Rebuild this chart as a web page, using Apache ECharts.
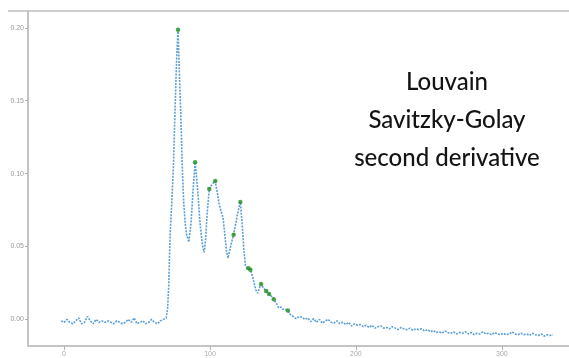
<!DOCTYPE html>
<html>
<head>
<meta charset="utf-8">
<script src="https://cdn.jsdelivr.net/npm/echarts@6/dist/echarts.min.js"></script>
<style>
  html, body { margin: 0; padding: 0; background: #fff; }
  #chart { width: 569px; height: 358px; }
</style>
</head>
<body>
<div id="chart"></div>
<script>
// Second-derivative trace (Savitzky-Golay) with detected peaks
const xVals = [
  -2, 0, 2, 4, 6, 8, 10, 12, 14, 16, 18, 20, 22, 24, 26, 28, 30, 32, 34, 36,
  38, 40, 42, 44, 46, 48, 50, 52, 54, 56, 58, 60, 62, 64, 66, 68,
  70, 71, 71.8, 72.6, 73.8, 74.9, 75.8, 76.7, 77.4, 78.1, 79, 80, 81, 82, 83, 84, 85.5,
  87, 88.5, 89.8, 91, 92, 93, 94, 95, 96, 97, 98, 99.5, 101, 102.3, 103.6,
  105, 106.3, 107.6, 108.9, 110.2, 111.3, 112.3, 113.5, 114.8, 116.2, 117.7, 119.2, 120.8,
  122, 123.2, 124.3, 125.3, 126.3, 127.7, 129, 130.2, 131.5, 132.7, 134, 135, 136.3,
  137.5, 138.5, 140.5, 142, 143.7, 145.5, 147, 148.5, 150, 151.7, 153.3,
  155, 157, 159, 161, 163, 165, 167, 169, 171, 173, 175, 177, 179, 181, 183, 185,
  187, 189, 191, 193, 195, 197, 199, 201, 203, 205, 207, 209, 211, 213, 215, 217,
  219, 221, 223, 225, 227, 229, 231, 233, 235, 237, 239, 241, 243, 245, 247, 249,
  251, 253, 255, 257, 259, 261, 263, 265, 267, 269, 271, 273, 275, 277, 279, 281,
  283, 285, 287, 289, 291, 293, 295, 297, 299, 301, 303, 305, 307, 309, 311, 313,
  315, 317, 319, 321, 323, 325, 327, 329, 331, 333, 335
];
const yVals = [
  -0.001, -0.002, 0.000, -0.002, -0.003, -0.001, 0.001, -0.003, -0.002, 0.002,
  -0.001, -0.003, 0.000, -0.002, -0.001, -0.002, -0.001, -0.002, -0.003, -0.001,
  -0.002, -0.003, -0.002, 0.000, -0.002, 0.001, -0.003, -0.002, -0.001, -0.003,
  -0.002, 0.000, -0.002, -0.003, -0.001, 0.000,
  0.001, 0.008, 0.025, 0.056, 0.080, 0.104, 0.135, 0.165, 0.185, 0.1986, 0.170, 0.140, 0.105, 0.080, 0.066, 0.058, 0.053,
  0.066, 0.090, 0.1078, 0.095, 0.083, 0.068, 0.058, 0.050, 0.046, 0.055, 0.072, 0.0895, 0.092, 0.093, 0.0949,
  0.087, 0.079, 0.074, 0.070, 0.058, 0.047, 0.042, 0.047, 0.053, 0.0581, 0.066, 0.074, 0.0805,
  0.066, 0.048, 0.037, 0.0355, 0.035, 0.034, 0.030, 0.025, 0.020, 0.018, 0.022, 0.0242, 0.022,
  0.0205, 0.0195, 0.0175, 0.016, 0.0138, 0.011, 0.008, 0.0085, 0.007, 0.0068, 0.0061,
  0.0035, 0.002, 0.0005, 0.002, 0.0015, 0.000, 0.001, -0.0015, 0.0005, -0.002, 0.000, -0.0025, -0.001, 0.000, -0.002, -0.0025,
  -0.001, -0.003, -0.002, -0.0035, -0.002, -0.0045, -0.003, -0.004, -0.0035, -0.005, -0.004, -0.0055, -0.004, -0.006, -0.005, -0.0045,
  -0.006, -0.0055, -0.0065, -0.005, -0.006, -0.007, -0.0055, -0.0065, -0.007, -0.006, -0.0075, -0.0065, -0.007, -0.0065, -0.008, -0.007,
  -0.0085, -0.0075, -0.009, -0.0085, -0.0095, -0.008, -0.009, -0.0095, -0.0085, -0.010, -0.009, -0.0095, -0.0085, -0.010, -0.009, -0.0105,
  -0.0095, -0.010, -0.0085, -0.010, -0.0095, -0.0105, -0.009, -0.010, -0.0105, -0.0095, -0.0105, -0.010, -0.0085, -0.010, -0.0105, -0.0095,
  -0.0105, -0.010, -0.011, -0.0095, -0.0105, -0.011, -0.010, -0.0115, -0.0105, -0.011, -0.0105
];

// Detected peaks (positions on the trace)
const peakX = [78.1, 89.8, 99.5, 103.6, 116.2, 120.8, 126.3, 127.7, 135, 138.5, 140.5, 143.7, 153.3];
const peakY = [0.1986, 0.1078, 0.0895, 0.0949, 0.0581, 0.0805, 0.035, 0.034, 0.0242, 0.0195, 0.0175, 0.0138, 0.0061];

const xTicks = [0, 100, 200, 300];
const yTicks = [0, 0.05, 0.10, 0.15, 0.20];
const titleLines = ['Louvain', 'Savitzky-Golay', 'second derivative'];

const trace = xVals.map((x, i) => [x, yVals[i]]);
const peaks = peakX.map((x, i) => [x, peakY[i]]);

const chart = echarts.init(document.getElementById('chart'), null, { renderer: 'canvas' });

chart.setOption({
  animation: false,
  backgroundColor: '#ffffff',
  grid: { left: 28, right: 0, top: 11, bottom: 7 },
  xAxis: {
    type: 'value',
    min: -24.7,
    max: 346,
    splitLine: { show: false },
    axisLine: { show: true, onZero: false, lineStyle: { color: '#c4c4c4', width: 2 } },
    axisTick: { show: true, customValues: xTicks, length: 4, lineStyle: { color: '#b0b0b0' } },
    axisLabel: { customValues: xTicks, color: '#aaa', fontSize: 7, margin: 5 }
  },
  yAxis: {
    type: 'value',
    min: -0.01824,
    max: 0.2115,
    splitLine: { show: false },
    axisLine: { show: true, onZero: false, lineStyle: { color: '#c4c4c4', width: 2 } },
    axisTick: { show: true, customValues: yTicks, length: 3, lineStyle: { color: '#b0b0b0' } },
    axisLabel: {
      customValues: yTicks,
      color: '#999',
      fontSize: 7,
      margin: 4,
      formatter: v => v.toFixed(2)
    }
  },
  series: [
    {
      type: 'line',
      data: trace,
      showSymbol: false,
      lineStyle: { color: '#5b9fd8', width: 1.6, type: [2, 1.2] },
      z: 2
    },
    {
      type: 'scatter',
      data: peaks,
      symbol: 'circle',
      symbolSize: 4.5,
      itemStyle: { color: '#1f8f1f' },
      z: 3
    }
  ],
  graphic: [
    {
      type: 'line',
      shape: { x1: 8, y1: 11, x2: 569, y2: 11 },
      style: { stroke: '#cfcfcf', lineWidth: 2 }
    },
    ...titleLines.map((t, i) => ({
      type: 'text',
      x: 447,
      y: 82 + i * 38,
      style: {
        text: t,
        fill: '#141414',
        font: '500 24px Lato, "Open Sans", sans-serif',
        textAlign: 'center',
        textVerticalAlign: 'middle'
      }
    }))
  ]
});
</script>
</body>
</html>
